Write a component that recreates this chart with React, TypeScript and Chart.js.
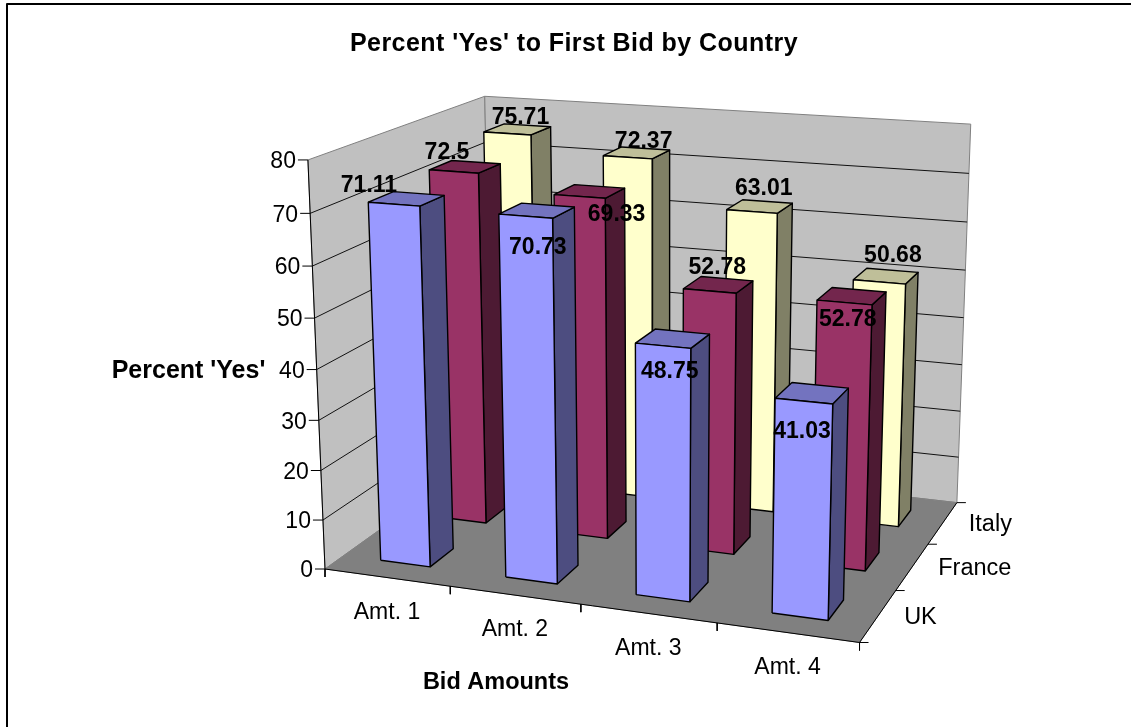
import React, { useEffect, useRef } from "react";
import { Chart, registerables } from "chart.js";

Chart.register(...registerables);

const categories = ["Amt. 1", "Amt. 2", "Amt. 3", "Amt. 4"];
const countries = ["UK", "France", "Italy"];
const ukValues = [71.11, 70.73, 48.75, 41.03];
const franceValues = [72.5, 69.33, 52.78, 52.78];
const italyValues = [75.71, 72.37, 63.01, 50.68];
const valueTicks = [0, 10, 20, 30, 40, 50, 60, 70, 80];
const seriesValues = [ukValues, franceValues, italyValues];

const titleText = "Percent 'Yes' to First Bid by Country";
const valueAxisTitle = "Percent 'Yes'";
const categoryAxisTitle = "Bid Amounts";

const frontColors = ["#9999FF", "#993366", "#FFFFCC"];
const topColors = ["#7373BF", "#73264D", "#BFBF99"];
const sideColors = ["#4D4D80", "#4D1A33", "#808066"];

// Layout: per-label nudge (px) from the projected bar-top centre, rows UK / France / Italy.
const labelNudges = [
  [[-37.5, -14], [1, 36], [-3, 32], [-10, 38]],
  [[-18, -15], [27, 22], [-1, -18], [-4, 23]],
  [[3, -13], [7, -12], [4, -19], [7, -21]],
];

const W = 1131;
const H = 727;
const MAX_VALUE = 80;
const BAR = 0.4; // Gap width & depth 150%
const MARGIN = 0.3;

// Perspective camera: (u across, v deep, w up) -> screen
function project(u: number, v: number, w: number) {
  const d = 1 - 0.0817 * u + 0.167 * v - 0.04846 * w;
  return {
    x: (464.3 * u + 249.2 * v - 32 * w + 325) / d,
    y: (21 * u - 44.5 * v - 416.8 * w + 569) / d,
  };
}

type P = { x: number; y: number };

function poly(points: P[], fill: string | null, stroke: string, width: number) {
  const data = fill ? [...points, points[0]] : points;
  return {
    data,
    showLine: true,
    pointRadius: 0,
    pointHoverRadius: 0,
    tension: 0,
    borderColor: stroke,
    borderWidth: width,
    backgroundColor: fill ?? "transparent",
    fill: fill ? "shape" : false,
    borderJoinStyle: "round",
    clip: false,
  };
}

function buildPaintList() {
  const list: any[] = [];
  const nCat = categories.length;
  const nRow = countries.length;
  const gray = "#808080";
  const black = "#000000";

  list.push(poly([{ x: 7, y: 727 }, { x: 7, y: 4 }, { x: 1131, y: 4 }], null, black, 2));

  list.push(poly([project(0, 0, 0), project(0, 0, 1), project(0, 1, 1), project(0, 1, 0)], "#C0C0C0", gray, 1));
  list.push(poly([project(0, 1, 0), project(0, 1, 1), project(1, 1, 1), project(1, 1, 0)], "#C0C0C0", gray, 1));
  list.push(poly([project(0, 0, 0), project(1, 0, 0), project(1, 1, 0), project(0, 1, 0)], "#808080", gray, 1));

  for (const t of valueTicks) {
    const w = t / MAX_VALUE;
    if (t > 0 && t < MAX_VALUE) {
      list.push(poly([project(0, 0, w), project(0, 1, w), project(1, 1, w)], null, "#111111", 1));
    }
    const p = project(0, 0, w);
    list.push(poly([{ x: p.x - 10, y: p.y }, p], null, black, 1));
  }
  list.push(poly([project(0, 0, 0), project(0, 0, 1)], null, black, 1));
  list.push(poly([project(0, 0, 0), project(1, 0, 0), project(1, 1, 0)], null, black, 1));

  for (let i = 0; i <= nCat; i++) {
    const p = project(i / nCat, 0, 0);
    list.push(poly([p, { x: p.x, y: p.y + 8 }], null, black, 1));
  }
  for (let j = 0; j <= nRow; j++) {
    const p = project(1, j / nRow, 0);
    list.push(poly([p, { x: p.x + 9, y: p.y }], null, black, 1));
  }

  for (let j = nRow - 1; j >= 0; j--) {
    for (let i = 0; i < nCat; i++) {
      const u0 = (i + MARGIN) / nCat;
      const u1 = (i + MARGIN + BAR) / nCat;
      const v0 = (j + MARGIN) / nRow;
      const v1 = (j + MARGIN + BAR) / nRow;
      const w = seriesValues[j][i] / MAX_VALUE;
      list.push(poly([project(u1, v0, 0), project(u1, v1, 0), project(u1, v1, w), project(u1, v0, w)], sideColors[j], black, 1.4));
      list.push(poly([project(u0, v0, w), project(u1, v0, w), project(u1, v1, w), project(u0, v1, w)], topColors[j], black, 1.4));
      list.push(poly([project(u0, v0, 0), project(u1, v0, 0), project(u1, v0, w), project(u0, v0, w)], frontColors[j], black, 1.4));
    }
  }
  return list;
}

const textPlugin = {
  id: "textPlugin",
  afterDatasetsDraw(chart: any) {
    const ctx = chart.ctx as CanvasRenderingContext2D;
    const sx = (v: number) => chart.scales.x.getPixelForValue(v);
    const sy = (v: number) => chart.scales.y.getPixelForValue(v);
    const family = '"Liberation Sans", Arial, sans-serif';
    const put = (s: string, x: number, y: number, size: number, bold: boolean, align: CanvasTextAlign, spacing = 0) => {
      ctx.font = `${bold ? "bold " : ""}${size}px ${family}`;
      (ctx as any).letterSpacing = `${spacing}px`;
      ctx.textAlign = align;
      ctx.textBaseline = "middle";
      ctx.fillStyle = "#000000";
      ctx.fillText(s, sx(x), sy(y + 2));
    };
    ctx.save();
    put(titleText, 574, 42, 25, true, "center", 0.45);
    put(valueAxisTitle, 188.5, 369, 25, true, "center");
    put(categoryAxisTitle, 496, 681, 23.5, true, "center");
    for (const t of valueTicks) {
      const p = project(0, 0, t / MAX_VALUE);
      put(String(t), p.x - 12, p.y, 23, false, "right");
    }
    categories.forEach((c, i) => {
      const p = project((i + 0.5) / categories.length, 0, 0);
      put(c, p.x, p.y + 33, 23, false, "center");
    });
    countries.forEach((c, j) => {
      const p = project(1, (j + 0.5) / countries.length, 0);
      put(c, p.x + 26, p.y, 23.5, false, "left");
    });
    seriesValues.forEach((vals, j) => {
      vals.forEach((val, i) => {
        const p = project((i + 0.5) / categories.length, (j + 0.5) / countries.length, val / MAX_VALUE);
        const [dx, dy] = labelNudges[j][i];
        put(String(val), p.x + dx, p.y + dy - 1, 23, true, "center");
      });
    });
    ctx.restore();
  },
};

export default function App() {
  const ref = useRef<HTMLCanvasElement>(null);
  useEffect(() => {
    const chart = new Chart(ref.current as HTMLCanvasElement, {
      type: "scatter",
      data: { datasets: buildPaintList().reverse() },
      options: {
        animation: false,
        responsive: false,
        layout: { padding: 0 },
        events: [],
        scales: {
          x: { type: "linear", min: 0, max: W, display: false },
          y: { type: "linear", min: 0, max: H, reverse: true, display: false },
        },
        plugins: { legend: { display: false }, tooltip: { enabled: false }, title: { display: false } },
      },
      plugins: [textPlugin],
    } as any);
    return () => chart.destroy();
  }, []);
  return (
    <div style={{ position: "fixed", left: 0, top: 0, width: W, height: H, background: "#fff" }}>
      <canvas ref={ref} width={W} height={H} style={{ display: "block" }} />
    </div>
  );
}
